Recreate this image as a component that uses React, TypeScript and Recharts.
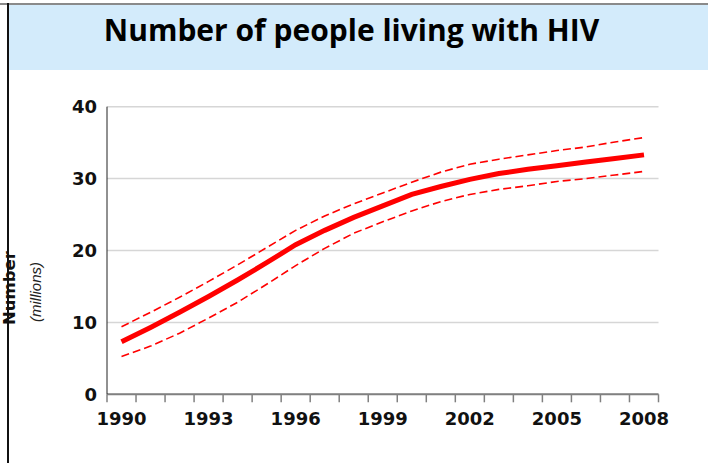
import React from "react";
import { LineChart, Line, XAxis, YAxis, CartesianGrid } from "recharts";

const years = [
  1990, 1991, 1992, 1993, 1994, 1995, 1996, 1997, 1998, 1999, 2000, 2001, 2002,
  2003, 2004, 2005, 2006, 2007, 2008,
];

// millions of people, central estimate and range
const estimate = [
  7.3, 9.3, 11.4, 13.6, 15.9, 18.3, 20.8, 22.8, 24.6, 26.2, 27.8, 28.9, 29.9,
  30.7, 31.3, 31.8, 32.3, 32.8, 33.3,
];
const upperBound = [
  9.4, 11.4, 13.5, 15.7, 18.0, 20.4, 22.8, 24.8, 26.5, 28.0, 29.5, 30.9, 32.0,
  32.7, 33.3, 33.9, 34.4, 35.1, 35.7,
];
const lowerBound = [
  5.25, 6.7, 8.5, 10.6, 12.8, 15.3, 17.9, 20.3, 22.4, 24.0, 25.5, 26.8, 27.8,
  28.5, 29.0, 29.6, 30.0, 30.5, 31.0,
];

const yTicks = [0, 10, 20, 30, 40];
const labelYears = [1990, 1993, 1996, 1999, 2002, 2005, 2008];

const data = years.map((year, i) => ({
  year,
  estimate: estimate[i],
  high: upperBound[i],
  low: lowerBound[i],
}));

// ticks at the edges of each year's band, labels at the band centres
const bandEdges = [years[0] - 0.5, ...years.map((y) => y + 0.5)];
const xTicks = [...bandEdges, ...labelYears].sort((a, b) => a - b);

const axisFont = "'DejaVu Sans', sans-serif";

const YearTick = (props: any) => {
  const { x, y, payload } = props;
  const v = payload.value;
  if (!Number.isInteger(v)) {
    return (
      <line x1={x} x2={x} y1={y - 8} y2={y} stroke="#808080" strokeWidth={1.5} />
    );
  }
  if (!labelYears.includes(v)) return <g />;
  return (
    <text
      x={x}
      y={y + 23}
      textAnchor="middle"
      fontFamily={axisFont}
      fontWeight="bold"
      fontSize={18}
      fill="#111"
    >
      {v}
    </text>
  );
};

export default function App() {
  return (
    <div
      style={{
        position: "absolute",
        left: 0,
        top: 0,
        width: 708,
        height: 463,
        background: "#fff",
        overflow: "hidden",
      }}
    >
      {/* frame */}
      <div style={{ position: "absolute", left: 0, top: 3, width: 708, height: 2, background: "#8a8a8a" }} />
      <div style={{ position: "absolute", left: 7, top: 3, width: 1.5, height: 460, background: "#111" }} />
      <div
        style={{
          position: "absolute",
          left: 9,
          top: 5,
          width: 699,
          height: 65,
          background: "#d3ebfb",
        }}
      />
      <div
        style={{
          position: "absolute",
          left: 2,
          top: 15,
          width: 699,
          height: 30,
          lineHeight: "30px",
          textAlign: "center",
          fontFamily: "'Open Sans', sans-serif",
          fontWeight: "bold",
          fontSize: 30,
          color: "#000",
          whiteSpace: "nowrap",
        }}
      >
        Number of people living with HIV
      </div>

      <div style={{ position: "absolute", left: 0, top: 0 }}>
        <LineChart
          width={708}
          height={463}
          data={data}
          margin={{ top: 106.7, right: 49.5, bottom: 28.7, left: 47 }}
        >
          <CartesianGrid
            horizontal
            vertical={false}
            stroke="#d6d6d6"
            strokeWidth={1.5}
          />
          <XAxis
            dataKey="year"
            type="number"
            domain={[years[0] - 0.5, years[years.length - 1] + 0.5]}
            ticks={xTicks}
            interval={0}
            tick={<YearTick />}
            tickLine={false}
            tickSize={8}
            tickMargin={0}
            height={40}
            axisLine={{ stroke: "#808080", strokeWidth: 2 }}
          />
          <YAxis
            domain={[0, 40]}
            ticks={yTicks}
            width={60}
            tickLine={false}
            tickSize={0}
            tickMargin={10}
            axisLine={{ stroke: "#222", strokeWidth: 1 }}
            tick={{
              fontFamily: axisFont,
              fontWeight: "bold",
              fontSize: 18,
              fill: "#111",
            }}
          />
          <Line
            type="linear"
            dataKey="high"
            stroke="#ff0000"
            strokeWidth={1.6}
            strokeDasharray="8 4"
            dot={false}
            isAnimationActive={false}
          />
          <Line
            type="linear"
            dataKey="low"
            stroke="#ff0000"
            strokeWidth={1.6}
            strokeDasharray="8 4"
            dot={false}
            isAnimationActive={false}
          />
          <Line
            type="linear"
            dataKey="estimate"
            stroke="#ff0000"
            strokeWidth={5}
            dot={false}
            isAnimationActive={false}
          />
        </LineChart>
      </div>

      {/* axis title */}
      <div
        style={{
          position: "absolute",
          left: 10 - 50,
          top: 288 - 9,
          width: 100,
          height: 18,
          lineHeight: "18px",
          textAlign: "center",
          transform: "rotate(-90deg)",
          fontFamily: axisFont,
          fontWeight: "bold",
          fontSize: 16.5,
          color: "#111",
        }}
      >
        Number
      </div>
      <div
        style={{
          position: "absolute",
          left: 36 - 50,
          top: 292 - 9,
          width: 100,
          height: 18,
          lineHeight: "18px",
          textAlign: "center",
          transform: "rotate(-90deg)",
          fontFamily: "'Liberation Sans', sans-serif",
          fontStyle: "italic",
          fontSize: 15,
          color: "#222",
        }}
      >
        (millions)
      </div>
    </div>
  );
}
